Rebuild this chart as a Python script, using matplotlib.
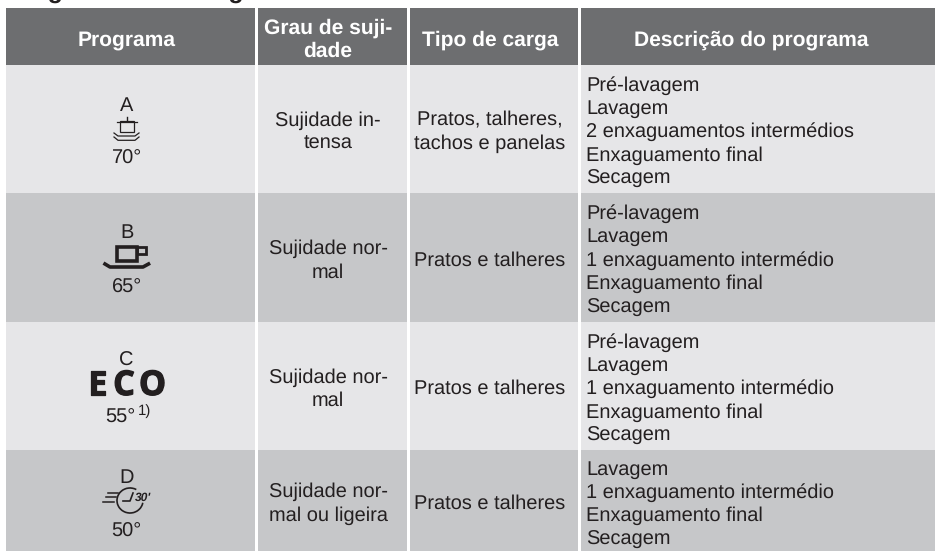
import matplotlib
matplotlib.use("Agg")
from matplotlib import pyplot as plt
from matplotlib import patheffects
from matplotlib.patches import Rectangle, Arc

plt.rcParams["font.family"] = ["Liberation Sans", "DejaVu Sans"]
plt.rcParams["text.hinting"] = "none"
plt.rcParams["text.hinting_factor"] = 1

W, H = 935, 551

title = "Programas de lavagem"
headers = [["Programa"], ["Grau de suji-", "dade"], ["Tipo de carga"], ["Descrição do programa"]]
letters = ["A", "B", "C", "D"]
temps = ["70°", "65°", "55°", "50°"]
soil = [["Sujidade in-", "tensa"], ["Sujidade nor-", "mal"], ["Sujidade nor-", "mal"], ["Sujidade nor-", "mal ou ligeira"]]
loads = [["Pratos, talheres,", "tachos e panelas"], ["Pratos e talheres"], ["Pratos e talheres"], ["Pratos e talheres"]]
desc = [
    ["Pré-lavagem", "Lavagem", "2 enxaguamentos intermédios", "Enxaguamento final", "Secagem"],
    ["Pré-lavagem", "Lavagem", "1 enxaguamento intermédio", "Enxaguamento final", "Secagem"],
    ["Pré-lavagem", "Lavagem", "1 enxaguamento intermédio", "Enxaguamento final", "Secagem"],
    ["Lavagem", "1 enxaguamento intermédio", "Enxaguamento final", "Secagem"],
]

col_x = [(6, 255), (258, 407), (409.5, 578), (581, 935)]
col_mid = [126.7, 328, 490, 751.5]
row_y = [(65, 193), (193, 322), (322, 450), (450, 551)]
row_mid = [129, 257.5, 386, 500.5]
letter_base = [110.7, 238, 366, 482.7]
temp_base = [164, 293, 422.7, 537]
row_colors = ["#e6e6e8", "#c6c7c9", "#e6e6e8", "#c6c7c9"]
header_color = "#6d6e70"
text_color = "#231f20"
BODY = 14.4
LINE = 23.4

fig = plt.figure(figsize=(W / 100, H / 100), dpi=100)
ax = fig.add_axes([0, 0, 1, 1])
ax.set_xlim(0, W)
ax.set_ylim(H, 0)
ax.axis("off")


def cell(c, y0, y1, color):
    x0, x1 = col_x[c]
    ax.add_patch(Rectangle((x0, y0), x1 - x0, y1 - y0, fc=color, ec="none"))


def lines(x, ym, rows, ha="center", off=8.2, **kw):
    # one text per line so the line pitch stays exact
    n = len(rows)
    for i, s in enumerate(rows):
        y = ym + off + (i - (n - 1) / 2) * LINE
        ax.text(x, y, s, ha=ha, va="baseline", **kw)


# heading is cut by the top edge in the reference
ax.text(6, -2, title, fontsize=18, fontweight="bold", color=text_color, va="baseline")

for c, h in enumerate(headers):
    cell(c, 8, 65, header_color)
    lines(col_mid[c], 37, h, color="white", fontsize=15, fontweight="bold")

for r in range(4):
    y0, y1 = row_y[r]
    for c in range(4):
        cell(c, y0, y1, row_colors[r])
    ym = row_mid[r]
    lines(col_mid[1], ym, soil[r], color=text_color, fontsize=BODY)
    lines(col_mid[2], ym, loads[r], color=text_color, fontsize=BODY)
    lines(586, ym, desc[r], ha="left", off=9.0 if len(desc[r]) == 4 else 8.2, color=text_color, fontsize=BODY)
    ax.text(col_mid[0], letter_base[r], letters[r], color=text_color, fontsize=BODY, ha="center", va="baseline")
    tx = 120.5 if r == 2 else col_mid[0]
    ax.text(tx, temp_base[r], temps[r], color=text_color, fontsize=BODY, ha="center", va="baseline")

ax.text(138, 415, "1)", color=text_color, fontsize=10.5, ha="left", va="baseline")

# ECO mark, letters spaced by hand
for ch, x in zip("ECO", [97.5, 124, 152.5]):
    t = ax.text(x, 395, ch, color=text_color, fontsize=24.5, fontweight="bold", ha="center", va="baseline",
                family=["Open Sans", "DejaVu Sans"])
    t.set_path_effects([patheffects.withStroke(linewidth=0.9, foreground=text_color)])

# pot on plates
ax.add_patch(Rectangle((119.5, 120.5), 14.5, 11.5, fc="none", ec=text_color, lw=0.9))
ax.plot([117, 137], [122, 122], color=text_color, lw=0.9)
ax.plot([127, 127], [116.7, 120], color=text_color, lw=1.0)
ax.plot([114, 118, 135, 139], [133, 136, 136, 133], color=text_color, lw=0.9)
ax.plot([114, 118, 135, 139], [137, 140.3, 140.3, 137], color=text_color, lw=0.9)

# cup on saucer
ax.add_patch(Rectangle((116.5, 246.5), 20, 14, fc="none", ec=text_color, lw=2.6))
ax.add_patch(Rectangle((136.5, 246.5), 9, 7.5, fc="none", ec=text_color, lw=2.0))
ax.plot([105, 110, 143, 148.5], [264, 267, 267, 264], color=text_color, lw=2.6)

# quick wash clock
ax.add_patch(Arc((130, 500.5), 26, 25, theta1=10, theta2=300, ec=text_color, lw=1.2))
ax.plot([123, 130, 133], [501, 501, 493], color=text_color, lw=1.2)
for xa, xb, y in [(108, 118, 493), (106, 116, 497), (103, 114, 502)]:
    ax.plot([xa, xb], [y, y], color=text_color, lw=1.1)
ax.text(143.5, 501, "30'", color=text_color, fontsize=8.5, fontweight="bold", ha="center", va="baseline", style="italic")

fig.savefig("out.png", dpi=100)
